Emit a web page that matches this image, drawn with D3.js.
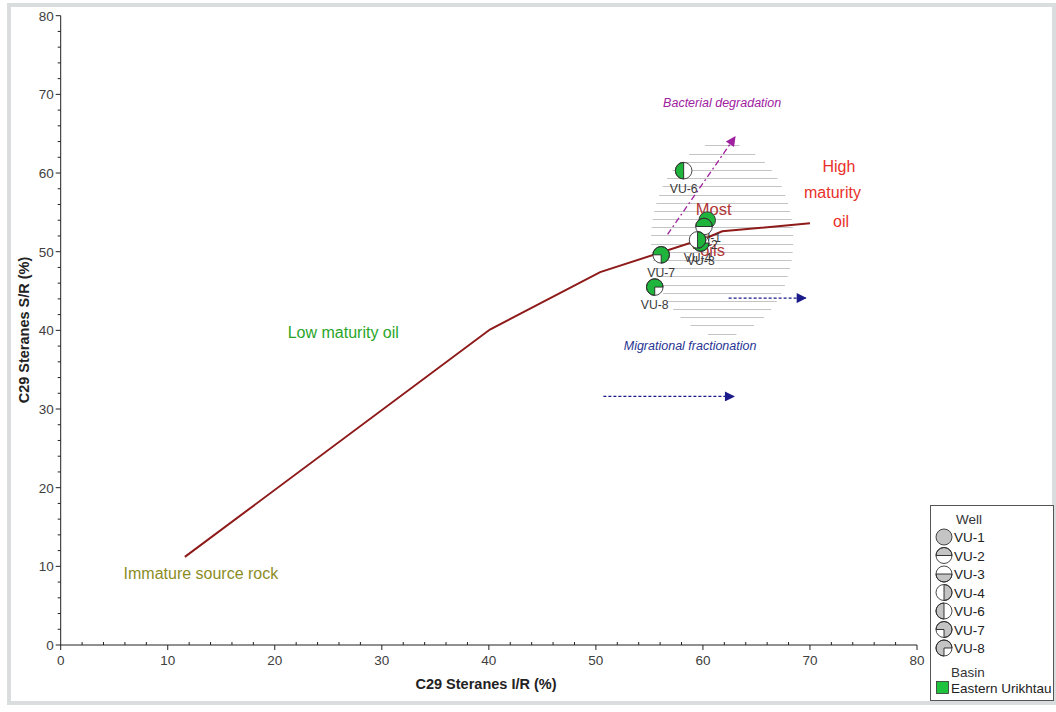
<!DOCTYPE html>
<html><head><meta charset="utf-8">
<script src="https://cdn.jsdelivr.net/npm/d3@7"></script>
<style>body{margin:0;background:#fff;font-family:"Liberation Sans",Arial,sans-serif;}</style>
</head><body><svg id="c" width="1056" height="712"></svg>
<script>
// ---- data ----
const wells = ["VU-1","VU-2","VU-3","VU-4","VU-6","VU-7","VU-8"];
const wellPattern = ["full","top","bottom","right","left","bl","br"];
const sampleWell = ["VU-1","VU-2","VU-3","VU-4","VU-6","VU-7","VU-8"];
const sampleIR = [60.4, 60.1, 59.8, 59.5, 58.2, 56.1, 55.5];
const sampleSR = [54.0, 53.2, 51.1, 51.5, 60.3, 49.6, 45.5];
const basins = ["Eastern Urikhtau"];
const maturityIR = [11.6, 40.1, 50.4, 60.6, 61.8, 70.0];
const maturitySR = [11.2, 40.1, 47.4, 51.9, 52.6, 53.6];
const ticks = [0,10,20,30,40,50,60,70,80];

const svg=d3.select("#c");
const x=d3.scaleLinear().domain([0,80]).range([60.7,917]);
const y=d3.scaleLinear().domain([0,80]).range([645,15.7]);
const green="#1fb53c", legendGray="#c4c4c4";

// frame
svg.append("rect").attr("x",9).attr("y",5).attr("width",1045).attr("height",698)
  .attr("fill","none").attr("stroke","#d9dddd").attr("stroke-width",4);

// hatch ellipse (Most oils field)
const ec={x:61.8,y:51.6,rx:6.64,ry:12.27};
const hatch=svg.append("g");
for(let yy=63.5; yy>=ec.y-ec.ry; yy-=1.04){
  const t=(yy-ec.y)/ec.ry; if(Math.abs(t)>=1) continue;
  const hw=ec.rx*Math.sqrt(1-t*t);
  hatch.append("line").attr("x1",x(ec.x-hw)).attr("x2",x(ec.x+hw))
    .attr("y1",Math.round(y(yy))+0.5).attr("y2",Math.round(y(yy))+0.5)
    .attr("stroke","#c4c4c4").attr("stroke-width",1);
}

// axes
const axG=svg.append("g").attr("stroke","#222").attr("fill","none");
axG.append("line").attr("x1",x(0)).attr("x2",x(80)).attr("y1",y(0)).attr("y2",y(0));
axG.append("line").attr("x1",x(0)).attr("x2",x(0)).attr("y1",y(0)).attr("y2",y(80));
d3.range(0,81,2).forEach(v=>{
  const major=v%10===0;
  axG.append("line").attr("x1",x(v)).attr("x2",x(v)).attr("y1",y(0)+(major?5:0)).attr("y2",y(0)-(major?0:3));
  axG.append("line").attr("y1",y(v)).attr("y2",y(v)).attr("x1",x(0)-(major?5:3)).attr("x2",x(0));
});
const tl=svg.append("g").attr("font-size",13.5).attr("fill","#404040");
ticks.forEach(v=>{
  tl.append("text").attr("x",x(v)).attr("y",y(0)+20).attr("text-anchor","middle").text(v);
  tl.append("text").attr("x",x(0)-7).attr("y",y(v)+5).attr("text-anchor","end").text(v);
});
svg.append("text").attr("x",486).attr("y",689).attr("text-anchor","middle")
  .attr("font-size",14.5).attr("font-weight","bold").attr("fill","#222").text("C29 Steranes I/R (%)");
svg.append("text").attr("transform","translate(29,330) rotate(-90)").attr("text-anchor","middle")
  .attr("font-size",14.5).attr("font-weight","bold").attr("fill","#222").text("C29 Steranes S/R (%)");

// maturity curve
svg.append("path").datum(maturityIR.map((d,i)=>[d,maturitySR[i]]))
  .attr("d",d3.line().x(d=>x(d[0])).y(d=>y(d[1])))
  .attr("fill","none").attr("stroke","#8e1a1a").attr("stroke-width",2);

// arrows
const defs=svg.append("defs");
function marker(id,col){
  defs.append("marker").attr("id",id).attr("viewBox","0 0 10 10").attr("refX",9).attr("refY",5)
   .attr("markerWidth",14).attr("markerHeight",10).attr("markerUnits","userSpaceOnUse").attr("orient","auto")
   .append("path").attr("d","M0,0L10,5L0,10Z").attr("fill",col);
}
marker("mp","#a0219f"); marker("mb","#1a1a8a");
svg.append("line").attr("x1",x(56.7)).attr("y1",y(52.2)).attr("x2",x(63.0)).attr("y2",y(64.6))
  .attr("stroke","#a0219f").attr("stroke-width",1.3).attr("stroke-dasharray","6,3,2,3").attr("marker-end","url(#mp)");
svg.append("line").attr("x1",x(62.4)).attr("y1",y(44.1)).attr("x2",x(69.6)).attr("y2",y(44.1))
  .attr("stroke","#1a1a8a").attr("stroke-width",1.3).attr("stroke-dasharray","3,2").attr("marker-end","url(#mb)");
svg.append("line").attr("x1",x(50.7)).attr("y1",y(31.6)).attr("x2",x(62.9)).attr("y2",y(31.6))
  .attr("stroke","#1a1a8a").attr("stroke-width",1.3).attr("stroke-dasharray","3,2").attr("marker-end","url(#mb)");

// annotation texts
function ann(t,xv,yv,size,col,italic){
  svg.append("text").attr("x",x(xv)).attr("y",y(yv)).attr("dy","0.35em").attr("text-anchor","middle")
   .attr("font-size",size).attr("fill",col).attr("font-style",italic?"italic":"normal").text(t);
}
ann("Bacterial degradation",61.8,69.0,12.5,"#a0219f",true);
ann("Migrational fractionation",58.8,38.0,12.5,"#283593",true);
ann("High",72.7,60.9,16,"#e8302a");
ann("maturity",72.1,57.6,16,"#e8302a");
ann("oil",72.9,53.9,16,"#e8302a");
ann("Most",61.0,55.4,16.5,"#b03636");
ann("oils",60.9,50.2,16.5,"#b03636");
ann("Low maturity oil",26.4,39.7,16,"#2aa52a");
ann("Immature source rock",13.1,9.1,16,"#8c8c1f");

// symbol
const arc=d3.arc().innerRadius(0);
const angles={full:[0,2*Math.PI],top:[-Math.PI/2,Math.PI/2],bottom:[Math.PI/2,1.5*Math.PI],
  right:[0,Math.PI],left:[Math.PI,2*Math.PI],bl:[-Math.PI/2,Math.PI],br:[-Math.PI,Math.PI/2]};
function symbol(g,cx,cy,r,pat,col){
  const s=g.append("g").attr("transform",`translate(${cx},${cy})`);
  s.append("circle").attr("r",r).attr("fill","#fff");
  const a=angles[pat];
  s.append("path").attr("d",arc({outerRadius:r,startAngle:a[0],endAngle:a[1]})).attr("fill",col)
   .attr("stroke",pat==="full"?"none":"#222").attr("stroke-width",0.9);
  s.append("circle").attr("r",r).attr("fill","none").attr("stroke","#333").attr("stroke-width",0.9);
}

// point labels then points
const pg=svg.append("g");
sampleWell.forEach((w,i)=>{
  pg.append("text").attr("x",x(sampleIR[i])).attr("y",y(sampleSR[i])+22).attr("text-anchor","middle")
   .attr("font-size",12.2).attr("fill","#3a3a3a").text(w);
});
sampleWell.forEach((w,i)=>{
  symbol(pg,x(sampleIR[i]),y(sampleSR[i]),8.3,wellPattern[wells.indexOf(w)],green);
});

// legend
const lg=svg.append("g");
lg.append("rect").attr("x",930.5).attr("y",505.5).attr("width",123).attr("height",195)
  .attr("fill","#fff").attr("stroke","#555").attr("stroke-width",1);
lg.append("text").attr("x",969).attr("y",524).attr("text-anchor","middle").attr("font-size",13.5).attr("fill","#333").text("Well");
wells.forEach((w,i)=>{
  const cy=537+i*18.5;
  symbol(lg,944,cy,8,wellPattern[i],legendGray);
  lg.append("text").attr("x",954).attr("y",cy+5).attr("font-size",13.5).attr("fill","#222").text(w);
});
lg.append("text").attr("x",968).attr("y",677).attr("text-anchor","middle").attr("font-size",13.5).attr("fill","#333").text("Basin");
basins.forEach((b,i)=>{
  lg.append("rect").attr("x",936.5).attr("y",681.5+i*18).attr("width",12).attr("height",12)
    .attr("fill","#1ec23c").attr("stroke","#333").attr("stroke-width",0.8);
  lg.append("text").attr("x",951).attr("y",693+i*18).attr("font-size",13.5).attr("fill","#222").text(b);
});
</script></body></html>
